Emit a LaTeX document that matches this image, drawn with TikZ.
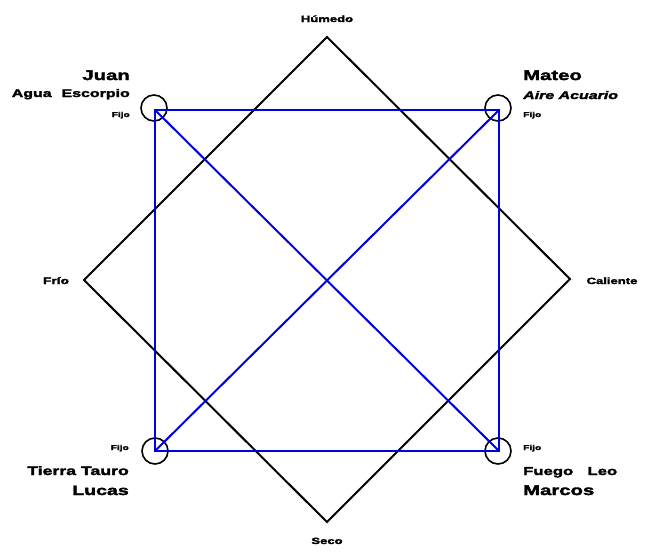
\documentclass[tikz,border=0pt]{standalone}
\usepackage{fontspec}
\newfontfamily\wf{Liberation Sans}[FakeStretch=1.45,FakeBold=2.5]
\begin{document}
\begin{tikzpicture}[x=1pt,y=-1pt,
  lbl/.style={inner sep=0pt,font=\wf\bfseries},
  blk/.style={line width=2pt,black,line join=miter},
  blu/.style={line width=2pt,blue!90!black},
  ring/.style={circle,draw=black,line width=1.6pt,minimum size=26pt,inner sep=0pt}]
\useasboundingbox (0,0) rectangle (646,555);
% diamond
\coordinate (dt) at (327,37);
\coordinate (dr) at (570,279);
\coordinate (db) at (327,522);
\coordinate (dl) at (84,280);
\draw[blk] (dt) -- (dr) -- (db) -- (dl) -- cycle;
% rings
\node[ring] (c1) at (154,108) {};
\node[ring] (c2) at (498,108) {};
\node[ring] (c3) at (155,451) {};
\node[ring] (c4) at (498,451) {};
% square
\coordinate (s1) at (155,110);
\coordinate (s2) at (499,110);
\coordinate (s3) at (155,451);
\coordinate (s4) at (499,451);
\draw[blu] (s1) -- (s2) -- (s4) -- (s3) -- cycle;
\draw[blu] (s1) -- (s4);
\draw[blu] (s2) -- (s3);
% cardinal labels
\node[lbl,font=\wf\bfseries\fontsize{9}{10}\selectfont,anchor=base] (hum) at (327,22) {Húmedo};
\node[lbl,font=\wf\bfseries\fontsize{9}{10}\selectfont,anchor=base] (sec) at (327,544) {Seco};
\node[lbl,font=\wf\bfseries\fontsize{9.5}{10}\selectfont,anchor=base] (fri) at (56,284) {Frío};
\node[lbl,font=\wf\bfseries\fontsize{9}{10}\selectfont,anchor=base] (cal) at (612,284) {Caliente};
% top-left
\node[lbl,font=\wf\bfseries\fontsize{14}{16}\selectfont,anchor=base east] (juan) at (130,80) {Juan};
\node[lbl,font=\wf\bfseries\fontsize{11}{13}\selectfont,anchor=base east] (agua) at (130,97) {\makebox[118pt][s]{Agua Escorpio}};
\node[lbl,font=\wf\bfseries\fontsize{7}{8}\selectfont,anchor=base east] (f1) at (130,117) {Fijo};
% top-right
\node[lbl,font=\wf\bfseries\fontsize{14}{16}\selectfont,anchor=base west] (mateo) at (523,80) {Mateo};
\node[lbl,font=\wf\bfseries\itshape\fontsize{11}{13}\selectfont,anchor=base west] (aire) at (523,99) {Aire Acuario};
\node[lbl,font=\wf\bfseries\fontsize{7}{8}\selectfont,anchor=base west] (f2) at (523,117) {Fijo};
% bottom-left
\node[lbl,font=\wf\bfseries\fontsize{7}{8}\selectfont,anchor=base east] (f3) at (129,450) {Fijo};
\node[lbl,font=\wf\bfseries\fontsize{12.2}{14}\selectfont,anchor=base east] (tierra) at (129,475) {Tierra Tauro};
\node[lbl,font=\wf\bfseries\fontsize{13.5}{16}\selectfont,anchor=base east] (lucas) at (129,495) {Lucas};
% bottom-right
\node[lbl,font=\wf\bfseries\fontsize{7}{8}\selectfont,anchor=base west] (f4) at (523,450) {Fijo};
\node[lbl,font=\wf\bfseries\fontsize{11.5}{14}\selectfont,anchor=base west] (fuego) at (523,475) {\makebox[94pt][s]{Fuego Leo}};
\node[lbl,font=\wf\bfseries\fontsize{14}{16}\selectfont,anchor=base west] (marcos) at (523,495) {Marcos};
\end{tikzpicture}
\end{document}
